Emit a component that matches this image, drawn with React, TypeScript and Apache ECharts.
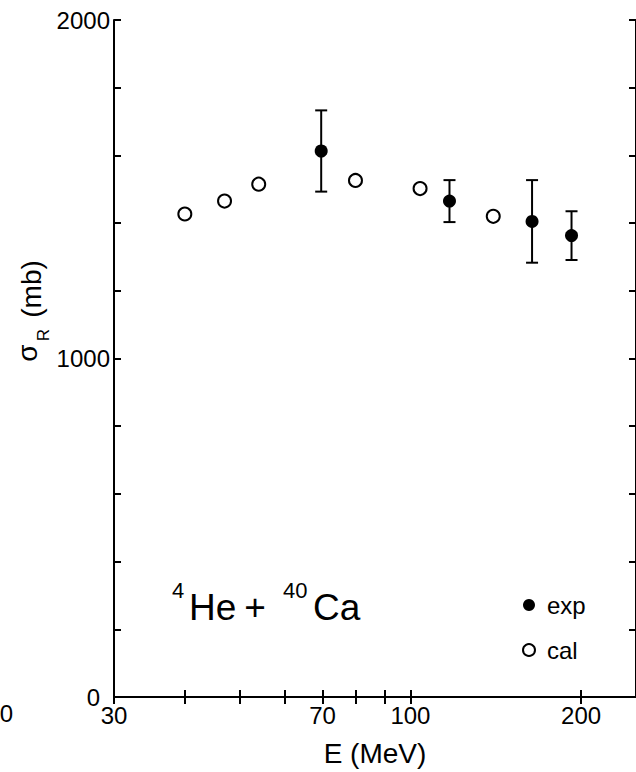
import React, { useEffect, useRef } from "react";
import * as echarts from "echarts";

// ---- data ----
const calE = [40, 47, 54, 80, 104, 140];
const calSigma = [1427, 1465, 1515, 1526, 1502, 1420];
const expE = [69.6, 117.2, 163.9, 192.4];
const expSigma = [1613, 1465, 1405, 1363];
const expErr = [120, 62, 122, 72];
const xTickValues = [30, 40, 50, 60, 70, 80, 90, 100, 200];
const xLabelValues = [30, 70, 100, 200];
const yLabelValues = [0, 1000, 2000];

const FONT = "'Liberation Sans', Arial, Helvetica, sans-serif";

export default function App() {
  const ref = useRef<HTMLDivElement | null>(null);

  useEffect(() => {
    if (!ref.current) return;
    const chart = echarts.init(ref.current, null, { renderer: "svg" });

    const calData = calE.map((e, i) => [e, calSigma[i]]);
    const expData = expE.map((e, i) => [e, expSigma[i]]);
    const errData = expE.map((e, i) => [e, expSigma[i] - expErr[i], expSigma[i] + expErr[i]]);

    const axisLine = { show: true, lineStyle: { color: "#000", width: 2 } };
    const tickStyle = { color: "#000", width: 2 };
    const plain = (v: number) => String(Math.round(v));

    const option: any = {
      animation: false,
      backgroundColor: "#fff",
      textStyle: { fontFamily: FONT, color: "#000" },
      grid: { left: 114, top: 20, width: 526.5, height: 677, containLabel: false },
      xAxis: [
        {
          type: "log",
          min: 30,
          max: 250,
          position: "bottom",
          axisLine,
          axisTick: { show: true, inside: true, length: 7, customValues: xTickValues, lineStyle: tickStyle },
          minorTick: { show: false },
          axisLabel: {
            customValues: xLabelValues,
            formatter: plain,
            fontSize: 24,
            lineHeight: 16,
            color: "#000",
            margin: 10,
            fontFamily: FONT,
          },
          splitLine: { show: false },
          name: "E (MeV)",
          nameLocation: "middle",
          nameGap: 42,
          nameTextStyle: { fontSize: 28, color: "#000", fontFamily: FONT },
        },
        {
          type: "log",
          min: 30,
          max: 250,
          position: "top",
          axisLine,
          axisTick: { show: true, inside: true, length: 7, customValues: xTickValues, lineStyle: tickStyle },
          axisLabel: { show: false },
          splitLine: { show: false },
        },
      ],
      yAxis: [
        {
          type: "value",
          min: 0,
          max: 2000,
          interval: 200,
          position: "left",
          axisLine,
          axisTick: { show: true, inside: true, length: 7, lineStyle: tickStyle },
          axisLabel: {
            customValues: yLabelValues,
            formatter: (v: number) => (Math.round(v) === 0 ? "{z|0}" : plain(v)),
            rich: { z: { fontSize: 24, fontFamily: FONT, color: "#000", padding: [0, 10, 0, 0] } },
            fontSize: 24,
            lineHeight: 14,
            color: "#000",
            margin: 4,
            fontFamily: FONT,
          },
          splitLine: { show: false },
        },
        {
          type: "value",
          min: 0,
          max: 2000,
          interval: 200,
          position: "right",
          axisLine,
          axisTick: { show: true, inside: true, length: 7, lineStyle: tickStyle },
          axisLabel: { show: false },
          splitLine: { show: false },
        },
      ],
      legend: {
        orient: "vertical",
        left: 517,
        top: 588,
        itemWidth: 12,
        itemHeight: 12,
        itemGap: 21,
        data: [
          { name: "exp", icon: "circle" },
          { name: "cal", icon: "circle" },
        ],
        textStyle: { fontSize: 24, color: "#000", fontFamily: FONT, lineHeight: 24, padding: [0, 0, 0, 7] },
      },
      series: [
        {
          name: "errorbars",
          type: "custom",
          xAxisIndex: 0,
          yAxisIndex: 0,
          z: 2,
          encode: { x: 0, y: [1, 2] },
          data: errData,
          renderItem: (params: any, api: any) => {
            const x = api.value(0);
            const lo = api.coord([x, api.value(1)]);
            const hi = api.coord([x, api.value(2)]);
            const hw = 6;
            const st = { stroke: "#000", lineWidth: 2 };
            return {
              type: "group",
              children: [
                { type: "line", shape: { x1: hi[0], y1: hi[1], x2: lo[0], y2: lo[1] }, style: st },
                { type: "line", shape: { x1: hi[0] - hw, y1: hi[1], x2: hi[0] + hw, y2: hi[1] }, style: st },
                { type: "line", shape: { x1: lo[0] - hw, y1: lo[1], x2: lo[0] + hw, y2: lo[1] }, style: st },
              ],
            };
          },
        },
        {
          name: "exp",
          type: "scatter",
          xAxisIndex: 0,
          yAxisIndex: 0,
          z: 5,
          symbol: "circle",
          symbolSize: 13,
          itemStyle: { color: "#000", opacity: 1 },
          data: expData,
        },
        {
          name: "cal",
          type: "scatter",
          xAxisIndex: 0,
          yAxisIndex: 0,
          z: 5,
          symbol: "circle",
          symbolSize: 13,
          itemStyle: { color: "#fff", borderColor: "#000", borderWidth: 2, opacity: 1 },
          data: calData,
        },
      ],
      graphic: [
        // clipped tick label at the far left
        { type: "text", x: 6.5, y: 713.5, style: { text: "0", fontSize: 24, fontFamily: FONT, fill: "#000", align: "center", verticalAlign: "middle" } },
        // y-axis title: σ_R (mb)
        { type: "text", x: 27, y: 353, rotation: Math.PI / 2, style: { text: "σ", fontSize: 28, fontFamily: FONT, fill: "#000", align: "center", verticalAlign: "middle" } },
        { type: "text", x: 43, y: 335, rotation: Math.PI / 2, style: { text: "R", fontSize: 17, fontFamily: FONT, fill: "#000", align: "center", verticalAlign: "middle" } },
        { type: "text", x: 31.5, y: 289, rotation: Math.PI / 2, style: { text: "(mb)", fontSize: 28, fontFamily: FONT, fill: "#000", align: "center", verticalAlign: "middle" } },
        // annotation 4He + 40Ca
        { type: "text", x: 172, y: 590, style: { text: "4", fontSize: 22, fontFamily: FONT, fill: "#000", align: "left", verticalAlign: "middle" } },
        { type: "text", x: 189, y: 607.5, style: { text: "He", fontSize: 37, fontFamily: FONT, fill: "#000", align: "left", verticalAlign: "middle" } },
        { type: "text", x: 255, y: 607.5, style: { text: "+", fontSize: 37, fontFamily: FONT, fill: "#000", align: "center", verticalAlign: "middle" } },
        { type: "text", x: 283, y: 590, style: { text: "40", fontSize: 22, fontFamily: FONT, fill: "#000", align: "left", verticalAlign: "middle" } },
        { type: "text", x: 313, y: 607.5, style: { text: "Ca", fontSize: 37, fontFamily: FONT, fill: "#000", align: "left", verticalAlign: "middle" } },
      ],
    };

    chart.setOption(option);
    return () => chart.dispose();
  }, []);

  return (
    <div
      ref={ref}
      style={{ position: "fixed", left: 0, top: 0, width: 636, height: 772, background: "#fff" }}
    />
  );
}
